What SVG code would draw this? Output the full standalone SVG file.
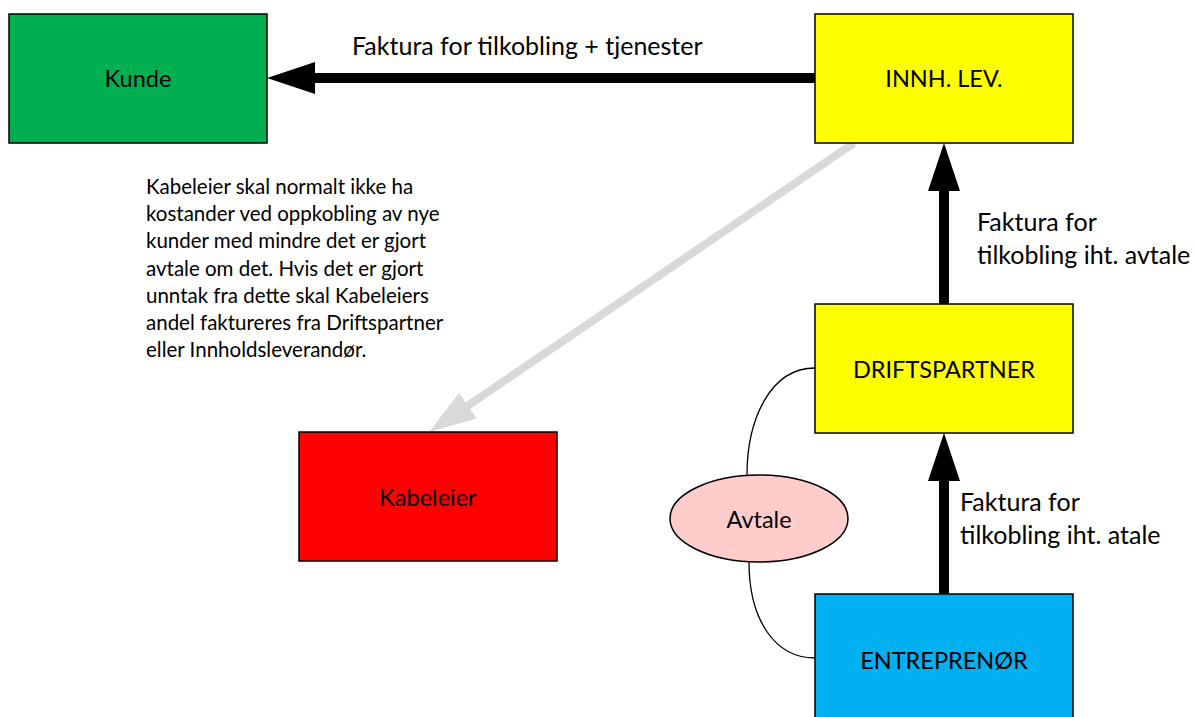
<svg xmlns="http://www.w3.org/2000/svg" width="1196" height="717" viewBox="0 0 1196 717">
<style>
.box{stroke:#000;stroke-width:1.5}
.lbl{font-family:Lato,"Liberation Sans",sans-serif;font-size:23.5px;fill:#000;text-anchor:middle;dominant-baseline:central}
.txt{font-family:Lato,"Liberation Sans",sans-serif;font-size:25px;fill:#000}
.note{font-family:Lato,"Liberation Sans",sans-serif;font-size:20.5px;fill:#000}
.thick{stroke:#000;stroke-width:10;fill:none;stroke-linecap:round}
.gray{stroke:#D9D9D9;stroke-width:8;fill:none}
.thin{stroke:#000;stroke-width:1.3;fill:none}
</style>
<defs>
<marker id="ah" viewBox="0 0 48 32" markerWidth="48" markerHeight="32" refX="6" refY="16" orient="auto" markerUnits="userSpaceOnUse">
<path d="M0,0 L48,16 L0,32 z" fill="#000"/>
</marker>
<marker id="ahg" viewBox="0 0 47 31" markerWidth="47" markerHeight="31" refX="6" refY="15.5" orient="auto" markerUnits="userSpaceOnUse">
<path d="M0,0 L47,15.5 L0,31 z" fill="#D9D9D9"/>
</marker>
</defs>
<g id="connectors">
<line class="thick" x1="815" y1="78" x2="309" y2="78" marker-end="url(#ah)"/>
<line class="thick" x1="944" y1="304" x2="944" y2="185" marker-end="url(#ah)"/>
<line class="thick" x1="944" y1="594" x2="944" y2="475" marker-end="url(#ah)"/>
<line class="gray" x1="854" y1="143" x2="463" y2="409" marker-end="url(#ahg)"/>
<path class="thin" d="M815,368 C770,368 747,420 747,475"/>
<path class="thin" d="M749,562 C749,620 775,658 815,658"/>
<text class="txt" x="352" y="55">Faktura for tilkobling + tjenester</text>
<text class="txt" x="977" y="231">Faktura for</text>
<text class="txt" x="977" y="264">tilkobling iht. avtale</text>
<text class="txt" x="960" y="511">Faktura for</text>
<text class="txt" x="960" y="544">tilkobling iht. atale</text>
</g>
<g id="kunde"><rect class="box" x="9" y="14" width="258" height="129" fill="#00B050"/><text class="lbl" x="138" y="78">Kunde</text></g>
<g id="innh"><rect class="box" x="815" y="14" width="258" height="129" fill="#FFFF00"/><text class="lbl" x="944" y="78">INNH. LEV.</text></g>
<g id="drift"><rect class="box" x="815" y="304" width="258" height="129" fill="#FFFF00"/><text class="lbl" x="944" y="369">DRIFTSPARTNER</text></g>
<g id="kabeleier"><rect class="box" x="299" y="432" width="258" height="129" fill="#FF0000"/><text class="lbl" x="428" y="497">Kabeleier</text></g>
<g id="entreprenor"><rect class="box" x="815" y="594" width="258" height="129" fill="#00B0F0"/><text class="lbl" x="944" y="660">ENTREPRENØR</text></g>
<g id="avtale"><ellipse class="box" cx="759" cy="518.5" rx="89" ry="43.5" fill="#FFCCCC"/><text class="lbl" x="759" y="519">Avtale</text></g>
<g id="note">
<text class="note" x="146" y="194">Kabeleier skal normalt ikke ha</text>
<text class="note" x="146" y="221">kostander ved oppkobling av nye</text>
<text class="note" x="146" y="248">kunder med mindre det er gjort</text>
<text class="note" x="146" y="276">avtale om det. Hvis det er gjort</text>
<text class="note" x="146" y="303">unntak fra dette skal Kabeleiers</text>
<text class="note" x="146" y="330">andel faktureres fra Driftspartner</text>
<text class="note" x="146" y="357">eller Innholdsleverandør.</text>
</g>
</svg>
